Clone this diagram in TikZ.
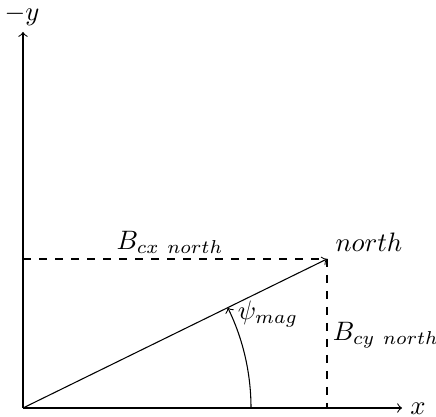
\documentclass[tikz,border=0pt]{standalone}
\usetikzlibrary{calc}
\begin{document}
\begin{tikzpicture}[x=0.375pt,y=0.375pt,
  axis/.style={->},
  guide/.style={dashed},
  lbl/.style={inner sep=0pt}]
\useasboundingbox (0,0) rectangle (436,417);
\coordinate (O) at (23,9);
\coordinate (xe) at (402,9);
\coordinate (ye) at (23,385);
\coordinate (N) at (327,158);
\coordinate (Ny) at (23,158);
\coordinate (Nx) at (327,9);
\coordinate (A0) at (251,9);
\draw[axis] (O) -- (xe);
\draw[axis] (O) -- (ye);
\node[lbl] (xl) at (418,8) {$x$};
\node[lbl] (yl) at (22,402) {$-y$};
\draw[guide] (Ny) -- (N);
\draw[guide] (N) -- (Nx);
\draw[->] (O) -- (N);
\draw[->] (A0) arc[start angle=0,end angle=26.11,radius=85.5pt];
\node[lbl] (nl) at (369,175) {$north$};
\node[lbl] (bcx) at (170,175) {$B_{cx\ north}$};
\node[lbl] (bcy) at (386,82) {$B_{cy\ north}$};
\node[lbl] (psi) at (268,103) {$\psi_{mag}$};
\end{tikzpicture}
\end{document}
